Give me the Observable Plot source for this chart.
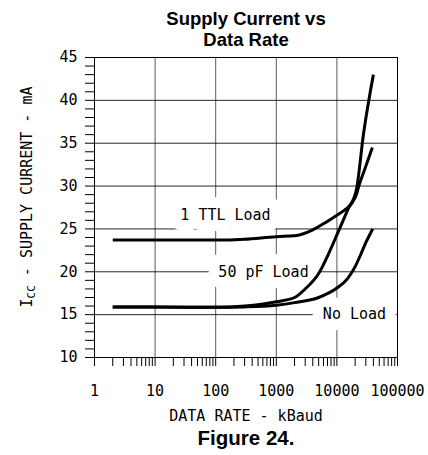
<!DOCTYPE html>
<html><head><meta charset="utf-8">
<script src="https://cdn.jsdelivr.net/npm/d3@7"></script>
<script src="https://cdn.jsdelivr.net/npm/@observablehq/plot@0.6"></script>
<style>
body{margin:0;background:#fff;}
.hdr{width:428px;box-sizing:border-box;padding-left:64px;text-align:center;font-family:"Liberation Sans",Arial,sans-serif;font-weight:bold;color:#000;}
#title{height:45px;padding-top:8px;font-size:18.5px;line-height:21px;}
#chart svg{display:block;}
#caption{height:29px;font-size:20.5px;line-height:23px;}
</style></head><body>
<div id="title" class="hdr">Supply Current vs<br>Data Rate</div>
<div id="chart"></div>
<div id="caption" class="hdr">Figure 24.</div>
<script>
// ---- data ----
const ttlRate  = [2, 10, 100, 300, 1000, 2000, 4000, 6000, 10000, 14000, 18000, 21000, 23000, 30000, 38500];
const ttlIcc   = [23.7, 23.7, 23.7, 23.8, 24.1, 24.2, 24.9, 25.6, 26.6, 27.3, 28.1, 29.0, 30.0, 32.3, 34.5];
const pfRate   = [2, 10, 100, 300, 1000, 2000, 3000, 5000, 7500, 10000, 15000, 21000, 27500, 40000];
const pfIcc    = [15.9, 15.9, 15.85, 16.0, 16.5, 17.0, 18.0, 19.8, 22.3, 24.3, 27.2, 29.6, 36.1, 43.0];
const noRate   = [2, 10, 100, 300, 1000, 2000, 5000, 10000, 15000, 20000, 25000, 30000, 39000];
const noIcc    = [15.9, 15.9, 15.85, 15.9, 16.1, 16.4, 17.0, 18.1, 19.2, 20.6, 22.1, 23.4, 25.0];

const labelText = ["1 TTL Load", "50 pF Load", "No Load"];
const labelRate = [145, 615, 19500];
const labelIcc  = [26.6, 20, 15];

const xMajor = [1, 10, 100, 1000, 10000, 100000];
const xMajorLabels = ["1", "10", "100", "1000", "10000", "100000"];
const xGrid = [10, 100, 1000, 10000];
const yMajor = [10, 15, 20, 25, 30, 35, 40, 45];
const yGrid = [15, 20, 25, 30, 35, 40];
const xTitle = "DATA RATE - kBaud";
const yTitleParts = ["I", "CC", " - SUPPLY CURRENT - mA"];

// minor ticks
const xMinor = [];
for (const d of [1, 10, 100, 1000, 10000]) for (let k = 2; k <= 9; k++) xMinor.push(k * d);
const yMinor = d3.range(10, 46).filter(v => v % 5 !== 0);

const rows = [];
ttlRate.forEach((r, i) => rows.push({series: "ttl", rate: r, icc: ttlIcc[i]}));
pfRate.forEach((r, i) => rows.push({series: "pf", rate: r, icc: pfIcc[i]}));
noRate.forEach((r, i) => rows.push({series: "no", rate: r, icc: noIcc[i]}));
const labels = labelText.map((t, i) => ({text: t, rate: labelRate[i], icc: labelIcc[i]}));

const mono = "'DejaVu Sans Mono', 'Liberation Mono', monospace";

const svg = Plot.plot({
  width: 428,
  height: 381,
  marginTop: 12,
  marginLeft: 94,
  marginRight: 31,
  marginBottom: 69,
  style: {fontFamily: mono, fontSize: "15px", color: "black", background: "white"},
  x: {type: "log", domain: [1, 100000], label: null},
  y: {domain: [10, 45], label: null},
  marks: [
    Plot.gridX(xGrid, {stroke: "black", strokeOpacity: 0.65, strokeWidth: 1}),
    Plot.gridY(yGrid, {stroke: "black", strokeOpacity: 0.85, strokeWidth: 1}),
    Plot.axisX(xMinor, {tickSize: 9, tickFormat: () => "", label: null}),
    Plot.axisX(xMajor, {tickSize: 9, tickPadding: 19, tickFormat: d => xMajorLabels[xMajor.indexOf(d)], label: null}),
    Plot.axisY(yMinor, {tickSize: 9, tickFormat: () => "", label: null}),
    Plot.axisY(yMajor, {tickSize: 9, tickPadding: 8, label: null}),
    Plot.text(labels, {x: "rate", y: "icc", text: "text", fill: "black", stroke: "white",
      strokeWidth: 22, strokeLinejoin: "round", paintOrder: "stroke", fontSize: 15}),
    Plot.line(rows, {x: "rate", y: "icc", z: "series", stroke: "black", strokeWidth: 3,
      curve: "monotone-x", strokeLinecap: "butt"}),
    Plot.text([xTitle], {frameAnchor: "bottom", dy: 63, fill: "black", fontSize: 15}),
    Plot.frame({stroke: "black", strokeWidth: 1})
  ]
});

const yl = d3.select(svg).append("text")
  .attr("transform", "translate(32,152) rotate(-90)")
  .attr("text-anchor", "middle")
  .attr("font-family", mono)
  .attr("font-size", 15)
  .attr("fill", "black");
yl.append("tspan").text(yTitleParts[0]);
yl.append("tspan").attr("font-size", 11).attr("dy", 3).text(yTitleParts[1]);
yl.append("tspan").attr("dy", -3).text(yTitleParts[2]);

document.getElementById("chart").appendChild(svg);
</script>
</body></html>
